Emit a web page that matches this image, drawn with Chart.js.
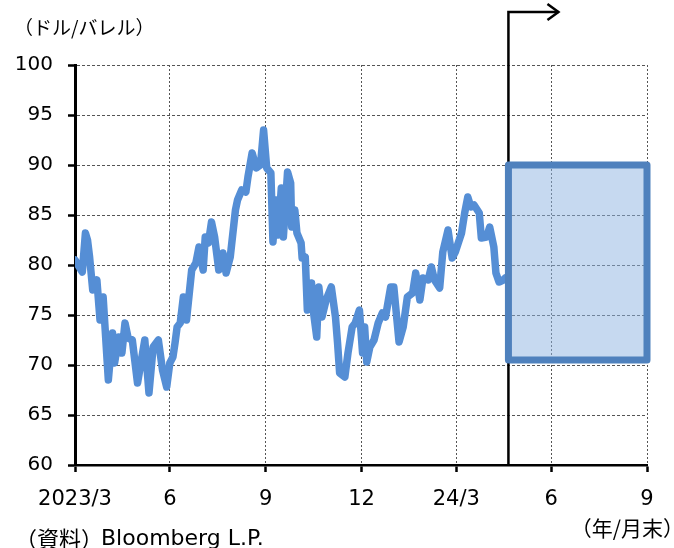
<!DOCTYPE html>
<html>
<head>
<meta charset="utf-8">
<script src="https://cdn.jsdelivr.net/npm/chart.js@4"></script>
<style>
html,body{margin:0;padding:0;background:#fff;}
#wrap{position:relative;width:674px;height:548px;}
</style>
</head>
<body>
<div id="wrap"><canvas id="c" width="674" height="548"></canvas></div>
<script>
// Days since 2023-03-31 (end of March 2023)
const days = [0,7,10,12,14,17,21,24,27,32,36,38,42,45,48,51,55,60,67,71,75,80,84,88,91,94,96,98,101,104,107,108,112,116,119,123,125,128,131,134,138,142,145,149,154,156,160,164,166,170,174,178,181,184,188,190,193,195,198,200,204,207,208,211,213,217,218,221,223,227,229,232,234,237,241,246,250,252,254,259,262,266,269,273,276,278,280,283,287,291,295,298,303,306,311,315,319,324,327,331,334,339,342,345,350,353,358,362,365,371,374,377,380,383,388,390,395,398,402,404,407,411,413];
// WTI crude oil price (USD/bbl)
const wti = [80.5,79.3,83.2,82.5,80.8,77.5,78.5,74.5,76.8,68.5,73.2,70.2,72.8,71.2,74.2,72.7,72.5,68.2,72.5,67.2,71.8,72.5,69.5,67.8,70.2,70.8,72.2,73.8,74.2,76.8,74.5,75.5,79.5,80.2,81.8,79.5,82.8,82.2,84.3,82.8,79.5,81.2,79.2,80.8,85.5,86.5,87.5,87.3,88.8,91.2,89.7,90.0,93.5,89.7,89.2,82.3,86.5,83.0,87.7,82.8,89.3,88.2,83.8,85.5,83.2,82.2,80.7,80.8,75.5,78.2,75.2,72.8,77.8,74.8,76.5,77.8,74.8,72.2,69.2,68.8,71.2,73.8,74.2,75.5,71.2,73.8,70.3,71.8,72.5,74.2,75.2,74.8,77.8,77.8,72.3,73.8,76.8,77.2,79.2,76.5,78.7,78.5,79.8,78.5,77.7,81.3,83.5,80.7,81.3,83.2,85.2,86.8,85.8,86.0,85.2,82.7,82.8,83.8,81.8,79.2,78.3,78.5,78.7];
// x-axis ticks (days since 2023-03-31) and labels
const tickDays = [0,91,183,275,366,457,549];
const tickLabels = ['2023/3','6','9','12','24/3','6','9'];
// y-axis range
const yMin = 60, yMax = 100, yStep = 5;
// forecast range box
const forecastStartDay = [416];
const forecastEndDay = [549];
const forecastLow = [70.5];
const forecastHigh = [90];
// arrow marking the forecast period (top, above plot)
const arrowLevel = [105.3];
const arrowEndDay = [464];

const TICK_FONT_Y = {family:'DejaVu Sans', size:20};
const TICK_FONT_X = {family:'DejaVu Sans', size:21};
const GRID_COLOR = '#555';

const overlay = {
  id:'overlay',
  afterDatasetsDraw(chart){
    const ctx = chart.ctx, xs = chart.scales.x, ys = chart.scales.y;
    ctx.save();
    const vx = xs.getPixelForValue(forecastStartDay[0]);
    const ay = ys.getPixelForValue(arrowLevel[0]);
    const ax = xs.getPixelForValue(arrowEndDay[0]);
    ctx.strokeStyle = '#000';
    ctx.lineWidth = 2.5;
    ctx.lineJoin = 'miter';
    ctx.beginPath();
    ctx.moveTo(vx, ys.getPixelForValue(yMin));
    ctx.lineTo(vx, ay);
    ctx.lineTo(ax, ay);
    ctx.stroke();
    ctx.beginPath();
    ctx.moveTo(ax-11, ay-8);
    ctx.lineTo(ax, ay);
    ctx.lineTo(ax-11, ay+8);
    ctx.stroke();
    const x1 = xs.getPixelForValue(forecastStartDay[0]);
    const x2 = xs.getPixelForValue(forecastEndDay[0]);
    const y1 = ys.getPixelForValue(forecastHigh[0]);
    const y2 = ys.getPixelForValue(forecastLow[0]);
    ctx.fillStyle = 'rgba(141,180,226,0.5)';
    ctx.fillRect(x1, y1, x2-x1, y2-y1);
    ctx.strokeStyle = '#4F81BD';
    ctx.lineWidth = 7;
    ctx.lineJoin = 'round';
    ctx.strokeRect(x1, y1, x2-x1, y2-y1);
    ctx.restore();
  },
  afterDraw(chart){
    const ctx = chart.ctx;
    ctx.save();
    ctx.fillStyle = '#000';
    ctx.textBaseline = 'middle';
    ctx.textAlign = 'left';
    ctx.font = '19px "Noto Sans CJK JP"';
    ctx.fillText('（ドル/バレル）', 14, 28);
    ctx.font = '22px "Noto Sans CJK JP"';
    const p1 = '（資料）';
    ctx.fillText(p1, 15, 539);
    const w1 = ctx.measureText(p1).width;
    ctx.font = '22px "DejaVu Sans"';
    ctx.fillText('Bloomberg L.P.', 15 + w1 - 2, 539);
    ctx.textAlign = 'right';
    ctx.font = '21px "Noto Sans CJK JP"';
    ctx.fillText('（年/月末）', 684, 528);
    ctx.restore();
  }
};

new Chart(document.getElementById('c'), {
  type:'line',
  data:{
    datasets:[{
      data: days.map((d,i)=>({x:d, y:wti[i]})),
      borderColor:'#558ED5',
      borderWidth:7.5,
      pointRadius:0,
      tension:0,
      borderJoinStyle:'round',
      borderCapStyle:'round',
      fill:false
    }]
  },
  options:{
    responsive:false,
    animation:false,
    devicePixelRatio:1,
    layout:{padding:{top:65,right:27,bottom:0,left:0}},
    plugins:{legend:{display:false}, tooltip:{enabled:false}},
    scales:{
      x:{
        type:'linear',
        min:0, max:549,
        afterBuildTicks(scale){ scale.ticks = tickDays.map(v=>({value:v})); },
        afterFit(scale){ scale.height = 83; },
        ticks:{
          autoSkip:false, maxRotation:0, padding:15,
          font:TICK_FONT_X, color:'#000',
          callback(v){ const i = tickDays.indexOf(v); return i>=0 ? tickLabels[i] : ''; }
        },
        grid:{
          color:(c)=> c.tick && c.tick.value===0 ? 'rgba(0,0,0,0)' : GRID_COLOR,
          lineWidth:1,
          drawTicks:true, tickLength:7, tickColor:'#000', tickWidth:2.5
        },
        border:{display:true, color:'#000', width:2.5, dash:[2,2]}
      },
      y:{
        min:yMin, max:yMax,
        afterFit(scale){ scale.width = 75; },
        ticks:{stepSize:yStep, padding:15, font:TICK_FONT_Y, color:'#000'},
        grid:{
          color:(c)=> c.tick && c.tick.value===yMin ? 'rgba(0,0,0,0)' : GRID_COLOR,
          lineWidth:1,
          drawTicks:true, tickLength:7, tickColor:'#000', tickWidth:2.5
        },
        border:{display:true, color:'#000', width:3, dash:[3,2]}
      }
    }
  },
  plugins:[overlay]
});
</script>
</body>
</html>
